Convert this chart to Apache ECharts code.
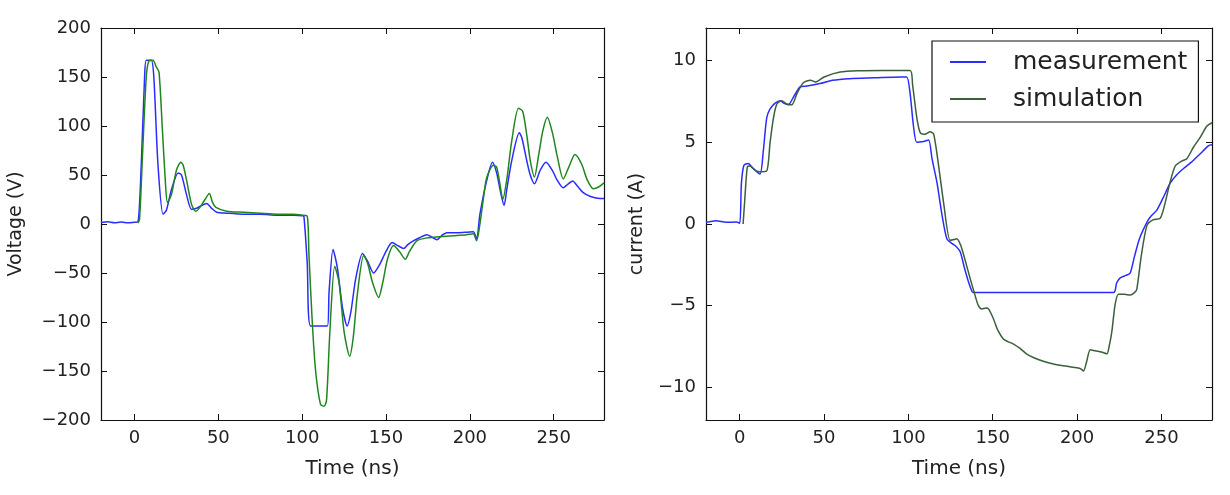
<!DOCTYPE html>
<html>
<head>
<meta charset="utf-8">
<script src="https://cdn.jsdelivr.net/npm/echarts@6/dist/echarts.min.js"></script>
<style>html,body{margin:0;padding:0;background:#fff;}#c{width:1230px;height:495px;}</style>
</head>
<body>
<div id="c"></div>
<script>
// ---- data ----
const timeTicks = [0, 50, 100, 150, 200, 250];
const voltageTicks = [-200, -150, -100, -50, 0, 50, 100, 150, 200];
const currentTicks = [-10, -5, 0, 5, 10];

// Voltage, measurement [t(ns), V]
const voltMeas = [[-20,1.5],[-16,2.2],[-12,1.2],[-8,2.0],[-4,1.3],[0,1.8],[2,2],[4,60],[6,150],[7,167],[10,167],[11.5,150],[14,60],[17,10],[19,14],[22,35],[26,52],[28,50],[31,30],[34,15],[37,16],[40,19],[43,21],[46,16],[49,12],[55,11],[65,10],[75,10],[85,9],[95,9],[100,8.5],[101,8],[103,-40],[105,-104],[115,-104],[116,-70],[118.4,-26],[121,-45],[124,-85],[126.8,-104],[129,-90],[132,-55],[136,-30],[139,-38],[142.6,-50],[146,-42],[150,-28],[153.6,-19],[157,-22],[160.5,-25],[163,-21],[166.5,-17],[170,-14],[174.4,-11],[177,-13],[180.4,-16],[183,-12],[186.3,-9],[192,-9],[197,-8.5],[202,-8],[204,-15],[206,10],[210,44],[213.5,63],[216,52],[218,35],[220.4,19],[222,35],[225,65],[229.5,93],[231,88],[234,64],[236,50],[238.5,41],[242,55],[245.4,63],[249.4,54],[252,45],[255.7,37],[258,40],[261.3,44],[264,39],[267.6,32],[272,28],[277.6,26],[280,26]];
// Voltage, simulation [t(ns), V]
const voltSim = [[2,1],[3,5],[5,80],[7,150],[8.5,166],[11,167],[13,160],[14.6,155],[16.5,100],[18.5,40],[19.6,22],[22,30],[25,55],[27.6,63],[29,60],[31,45],[34,20],[36.5,13],[39,17],[42,25],[44.6,31],[46.5,22],[48.5,17],[55,13],[65,12],[75,11],[85,10],[95,10],[100,9],[103,8],[104,-30],[106,-100],[108,-150],[110.9,-184],[113,-186],[114.5,-180],[116.5,-110],[119.4,-43],[122,-60],[125,-110],[128.3,-135],[130.5,-115],[133,-70],[136.7,-32],[139,-40],[142,-60],[145.6,-75],[148,-60],[151,-35],[154.5,-22],[158,-28],[161.5,-36],[164,-28],[168.5,-17],[175,-14],[182,-13],[190,-12],[198,-11],[202,-10],[204,-17],[206,0],[208,25],[210,47],[214,60],[216,58],[218,40],[219.6,25],[222,45],[225,85],[229,118],[231.5,115],[234,90],[236,65],[238.5,48],[241,70],[243.5,95],[246.2,109],[249.4,92],[252,70],[255.7,46],[259,58],[262.7,71],[266.7,61],[270,45],[273.6,36],[277,38],[280,42]];
// Current, measurement [t(ns), A]
const currMeas = [[-20,0.1],[-14,0.2],[-8,0.1],[-2,0.12],[0,0.05],[1,2.5],[2.5,3.6],[5,3.7],[8,3.4],[12,3.06],[14,4.5],[16,6.5],[18,7.05],[21,7.4],[24,7.55],[26,7.4],[28.8,7.3],[32,7.8],[35.8,8.4],[40,8.45],[47.6,8.6],[55,8.8],[65,8.9],[80,8.95],[95,9.0],[99,9.0],[101,8.0],[103,6.0],[105,5.0],[109,5.05],[112,5.15],[114,4.0],[117,2.5],[120,0.5],[122.8,-0.9],[126,-1.2],[128,-1.35],[130.7,-1.7],[133,-2.6],[135.5,-3.5],[137.6,-4.1],[138.5,-4.2],[221.6,-4.2],[223.5,-3.6],[225.6,-3.3],[229,-3.15],[231.5,-3.0],[234,-2.0],[237,-0.9],[241.4,0.1],[244,0.5],[247.3,0.85],[251,1.6],[255.2,2.5],[259,3.0],[263.1,3.4],[268,3.8],[273,4.3],[278,4.8],[280,4.85]];
// Current, simulation [t(ns), A]
const currSim = [[2,0],[3,1.5],[4.5,3.5],[6,3.55],[9,3.3],[12,3.2],[16,3.25],[18,5.0],[20,6.5],[22,7.35],[24.8,7.55],[28,7.35],[30.8,7.3],[34,8.0],[37.7,8.65],[42,8.8],[45,8.7],[50,9.0],[59.5,9.3],[70,9.38],[85,9.4],[101,9.4],[102.5,8.5],[105,6.5],[107,5.6],[110,5.5],[112.9,5.65],[115,5.5],[118,3.5],[121,1.2],[124.7,-1.0],[127,-0.95],[128.7,-0.9],[131,-1.3],[133.6,-2.2],[136.5,-3.3],[139.6,-4.4],[141.5,-5.0],[143.5,-5.2],[146,-5.15],[147.5,-5.2],[150.4,-5.8],[153,-6.5],[156.3,-7.04],[159,-7.2],[162.3,-7.35],[166,-7.6],[170,-7.95],[174.1,-8.17],[180,-8.4],[186,-8.57],[193,-8.7],[199.9,-8.8],[202,-8.85],[203.8,-9.0],[205.5,-8.5],[207.8,-7.7],[210,-7.75],[212.7,-7.8],[215,-7.85],[217.7,-7.95],[219,-7.5],[220.6,-6.6],[222.6,-4.9],[224.6,-4.3],[228,-4.3],[231.5,-4.35],[234,-4.2],[235.4,-4.0],[238,-2.0],[241.4,-0.1],[245,0.25],[249.3,0.35],[252,1.2],[255,2.5],[258.2,3.55],[262,3.85],[265.1,4.0],[269,4.7],[273,5.3],[277,6.0],[280,6.2]];

// ---- styles ----
const FONT = 'DejaVu Sans';
const TXT = '#222';
const AX = '#111';
const BLUE = '#2b2bff';
const GREEN_L = '#1f861f';
const GREEN_R = '#3b5e3b';

function xAx(gi, pos, showLabel, name) {
  return {
    type: 'value', gridIndex: gi, position: pos, min: -20, max: 280,
    axisLine: { show: true, onZero: false, lineStyle: { color: AX, width: 1.2 } },
    axisTick: { show: true, inside: true, length: 6, customValues: timeTicks, lineStyle: { color: AX } },
    axisLabel: { show: showLabel, customValues: timeTicks, margin: 9, color: TXT, fontFamily: FONT, fontSize: 18 },
    splitLine: { show: false },
    name: name || '', nameLocation: 'middle', nameGap: 39,
    nameTextStyle: { color: TXT, fontFamily: FONT, fontSize: 20 }
  };
}
function yAx(gi, pos, showLabel, min, max, ticks, name, gap) {
  return {
    type: 'value', gridIndex: gi, position: pos, min: min, max: max,
    axisLine: { show: true, onZero: false, lineStyle: { color: AX, width: 1.2 } },
    axisTick: { show: true, inside: true, length: 6, customValues: ticks, lineStyle: { color: AX } },
    axisLabel: { show: showLabel, customValues: ticks, margin: 10, color: TXT, fontFamily: FONT, fontSize: 18,
      formatter: v => (v < 0 ? '\u2212' + Math.abs(v) : String(v)) },
    splitLine: { show: false },
    name: name || '', nameLocation: 'middle', nameRotate: 90, nameGap: gap || 0,
    nameTextStyle: { color: TXT, fontFamily: FONT, fontSize: 19 }
  };
}
function line(name, data, color, xi, yi) {
  return {
    type: 'line', name: name, data: data, xAxisIndex: xi, yAxisIndex: yi,
    showSymbol: false, symbol: 'none', smooth: 0.25, animation: false,
    lineStyle: { color: color, width: 1.5 }, itemStyle: { color: color }
  };
}

const chart = echarts.init(document.getElementById('c'), null, { renderer: 'canvas' });
chart.setOption({
  backgroundColor: '#fff',
  animation: false,
  grid: [
    { left: 101, top: 28, width: 503, height: 392 },
    { left: 706, top: 28, width: 506, height: 392 }
  ],
  xAxis: [
    xAx(0, 'bottom', true, 'Time (ns)'),
    xAx(0, 'top', false),
    xAx(1, 'bottom', true, 'Time (ns)'),
    xAx(1, 'top', false)
  ],
  yAxis: [
    yAx(0, 'left', true, -200, 200, voltageTicks, 'Voltage (V)', 75),
    yAx(0, 'right', false, -200, 200, voltageTicks),
    yAx(1, 'left', true, -12, 12, currentTicks, 'current (A)', 59),
    yAx(1, 'right', false, -12, 12, currentTicks)
  ],
  legend: {
    orient: 'vertical', left: 932, top: 41,
    padding: [8, 11, 10, 18], itemGap: 11,
    itemWidth: 36, itemHeight: 2, icon: 'rect',
    borderColor: '#111', borderWidth: 1.2, backgroundColor: '#fff',
    textStyle: { color: TXT, fontFamily: FONT, fontSize: 25, lineHeight: 26, padding: [0, 0, 0, 22] },
    data: ['measurement', 'simulation']
  },
  series: [
    line('Vmeas', voltMeas, BLUE, 0, 0),
    line('Vsim', voltSim, GREEN_L, 0, 0),
    line('measurement', currMeas, BLUE, 2, 2),
    line('simulation', currSim, GREEN_R, 2, 2)
  ]
});
</script>
</body>
</html>
